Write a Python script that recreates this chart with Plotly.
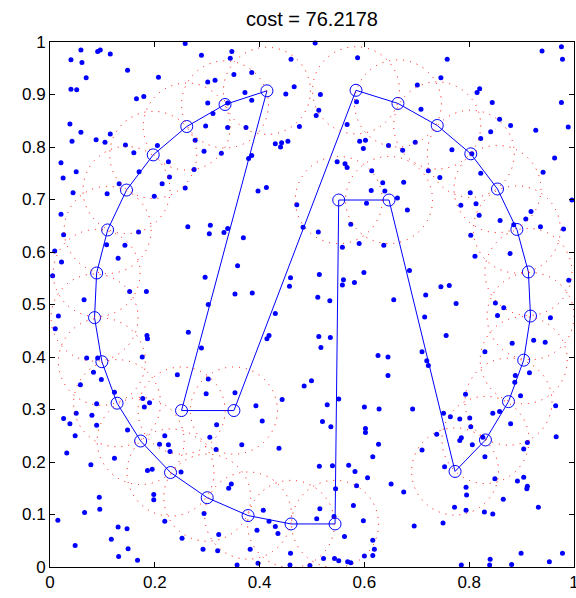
import plotly.graph_objects as go

# ---- data ----
route_x = [0.251, 0.351, 0.584, 0.664, 0.739, 0.803, 0.854, 0.891, 0.913, 0.917, 0.904, 0.875,
           0.831, 0.773, 0.647, 0.551, 0.544, 0.460, 0.378, 0.300, 0.230, 0.173, 0.128, 0.099,
           0.085, 0.089, 0.110, 0.146, 0.197, 0.261, 0.334, 0.414]
route_y = [0.298, 0.298, 0.908, 0.883, 0.841, 0.787, 0.720, 0.643, 0.562, 0.478, 0.394, 0.315,
           0.242, 0.182, 0.699, 0.699, 0.082, 0.082, 0.098, 0.132, 0.180, 0.240, 0.312, 0.391,
           0.475, 0.560, 0.642, 0.718, 0.785, 0.839, 0.881, 0.907]

circle_radius = 0.083
title_text = "cost = 76.2178"

dot_x = [
    0.059, 0.040, 0.061, 0.091, 0.096, 0.115, 0.069, 0.040, 0.051, 0.148, 0.207, 0.289, 0.258, 0.301, 0.315,
    0.165, 0.179, 0.301, 0.311, 0.038, 0.059, 0.042, 0.088, 0.105, 0.115, 0.144, 0.160, 0.205, 0.277, 0.297,
    0.294, 0.021, 0.025, 0.050, 0.170, 0.226, 0.228, 0.214, 0.132, 0.109, 0.044, 0.199, 0.258, 0.275, 0.021,
    0.506, 0.347, 0.344, 0.460, 0.587, 0.351, 0.385, 0.372, 0.385, 0.466, 0.450, 0.516, 0.513, 0.508, 0.476,
    0.339, 0.374, 0.430, 0.442, 0.440, 0.454, 0.385, 0.379, 0.327, 0.567, 0.591, 0.602, 0.598, 0.646, 0.548,
    0.563, 0.567, 0.614, 0.635, 0.613, 0.639, 0.397, 0.413, 0.471, 0.604, 0.585, 0.339,
    0.939, 0.976, 0.978, 0.758, 0.746, 0.701, 0.820, 0.815, 0.844, 0.976, 0.708, 0.858, 0.879, 0.841, 0.927,
    0.989, 0.822, 0.697, 0.673, 0.767, 0.963, 0.941, 0.722, 0.744, 0.822, 0.675, 0.805, 0.663, 0.682, 0.802,
    0.784, 0.813, 0.819, 0.918, 0.908, 0.996,
    0.026, 0.169, 0.263, 0.306, 0.304, 0.108, 0.143, 0.009, 0.130, 0.022, 0.005, 0.296, 0.152, 0.184, 0.065,
    0.302, 0.016, 0.010, 0.264, 0.185, 0.186, 0.289, 0.070, 0.091, 0.176, 0.083, 0.098, 0.058, 0.243, 0.302,
    0.298, 0.123,
    0.339, 0.332, 0.369, 0.483, 0.512, 0.574, 0.590, 0.558, 0.637, 0.358, 0.459, 0.457, 0.514, 0.560, 0.558,
    0.581, 0.599, 0.353, 0.386, 0.511, 0.534, 0.656, 0.430, 0.418, 0.414, 0.513, 0.535, 0.517, 0.626, 0.645,
    0.645, 0.499, 0.485, 0.353,
    0.859, 0.936, 0.980, 0.885, 0.803, 0.811, 0.878, 0.686, 0.746, 0.762, 0.990, 0.717, 0.775, 0.850, 0.866,
    0.854, 0.715, 0.955, 0.756, 0.882, 0.923, 0.945, 0.710, 0.830, 0.719, 0.722, 0.915, 0.888, 0.887, 0.793,
    0.898,
    0.089, 0.050, 0.080, 0.026, 0.038, 0.089, 0.048, 0.177, 0.180, 0.190, 0.148, 0.219, 0.209, 0.226, 0.229,
    0.032, 0.123, 0.078, 0.186, 0.195, 0.250, 0.305, 0.318, 0.317, 0.198, 0.198, 0.094, 0.095, 0.066, 0.015,
    0.219, 0.294, 0.130, 0.147, 0.117, 0.252, 0.048, 0.149, 0.131, 0.167, 0.292,
    0.443, 0.393, 0.405, 0.366, 0.437, 0.529, 0.551, 0.520, 0.536, 0.600, 0.628, 0.602, 0.602, 0.627, 0.616,
    0.514, 0.539, 0.570, 0.582, 0.606, 0.651, 0.585, 0.545, 0.346, 0.341, 0.407, 0.515, 0.509, 0.542, 0.579,
    0.598, 0.418, 0.430, 0.395, 0.435, 0.322, 0.562, 0.616, 0.619, 0.382, 0.320, 0.459, 0.522, 0.543, 0.551,
    0.568, 0.574, 0.600, 0.616, 0.397, 0.357, 0.458, 0.496,
    0.692, 0.751, 0.764, 0.782, 0.801, 0.845, 0.858, 0.965, 0.803, 0.879, 0.738, 0.785, 0.782, 0.826, 0.806,
    0.966, 0.911, 0.904, 0.710, 0.830, 0.753, 0.849, 0.892, 0.904, 0.911, 0.910, 0.794, 0.675, 0.795, 0.865,
    0.772, 0.794, 0.829, 0.845, 0.932, 0.750, 0.695, 0.899, 0.978, 0.953, 0.840, 0.839, 0.881, 0.785,
]
dot_y = [
    0.985, 0.966, 0.961, 0.982, 0.985, 0.977, 0.932, 0.910, 0.909, 0.946, 0.933, 0.975, 0.997, 0.924, 0.927,
    0.892, 0.896, 0.884, 0.864, 0.844, 0.828, 0.811, 0.814, 0.809, 0.825, 0.804, 0.789, 0.803, 0.813, 0.840,
    0.792, 0.770, 0.741, 0.753, 0.753, 0.772, 0.743, 0.730, 0.730, 0.711, 0.713, 0.706, 0.722, 0.757, 0.672,
    0.998, 0.982, 0.969, 0.967, 0.970, 0.938, 0.942, 0.904, 0.889, 0.915, 0.901, 0.900, 0.870, 0.860, 0.839,
    0.837, 0.837, 0.806, 0.808, 0.800, 0.811, 0.784, 0.778, 0.788, 0.843, 0.811, 0.813, 0.797, 0.803, 0.772,
    0.768, 0.761, 0.755, 0.732, 0.717, 0.716, 0.716, 0.723, 0.690, 0.693, 0.886, 0.884,
    0.983, 0.991, 0.967, 0.967, 0.932, 0.918, 0.911, 0.904, 0.885, 0.885, 0.872, 0.853, 0.841, 0.829, 0.832,
    0.838, 0.816, 0.809, 0.794, 0.795, 0.779, 0.752, 0.755, 0.742, 0.750, 0.733, 0.787, 0.703, 0.680, 0.713,
    0.689, 0.692, 0.670, 0.677, 0.663, 0.699,
    0.633, 0.638, 0.648, 0.651, 0.635, 0.614, 0.613, 0.602, 0.588, 0.581, 0.555, 0.552, 0.525, 0.525, 0.509,
    0.500, 0.478, 0.454, 0.447, 0.441, 0.435, 0.417, 0.398, 0.398, 0.400, 0.371, 0.357, 0.347, 0.366, 0.358,
    0.330, 0.333,
    0.645, 0.637, 0.627, 0.647, 0.638, 0.653, 0.616, 0.609, 0.613, 0.574, 0.551, 0.535, 0.557, 0.547, 0.537,
    0.542, 0.561, 0.520, 0.522, 0.514, 0.507, 0.509, 0.483, 0.441, 0.435, 0.439, 0.437, 0.418, 0.403, 0.400,
    0.365, 0.355, 0.345, 0.332,
    0.660, 0.648, 0.644, 0.652, 0.632, 0.592, 0.597, 0.565, 0.534, 0.536, 0.546, 0.518, 0.502, 0.503, 0.494,
    0.479, 0.476, 0.475, 0.441, 0.426, 0.432, 0.428, 0.410, 0.410, 0.393, 0.384, 0.370, 0.365, 0.352, 0.329,
    0.326,
    0.311, 0.293, 0.289, 0.283, 0.273, 0.270, 0.250, 0.321, 0.305, 0.313, 0.261, 0.250, 0.234, 0.233, 0.220,
    0.217, 0.207, 0.195, 0.184, 0.186, 0.181, 0.247, 0.271, 0.224, 0.138, 0.128, 0.133, 0.110, 0.104, 0.089,
    0.087, 0.102, 0.076, 0.073, 0.053, 0.055, 0.041, 0.035, 0.020, 0.013, 0.034,
    0.319, 0.307, 0.278, 0.233, 0.226, 0.309, 0.320, 0.277, 0.267, 0.305, 0.301, 0.264, 0.256, 0.234, 0.210,
    0.192, 0.193, 0.194, 0.182, 0.170, 0.158, 0.155, 0.149, 0.158, 0.150, 0.108, 0.111, 0.092, 0.096, 0.117,
    0.088, 0.087, 0.077, 0.070, 0.064, 0.062, 0.058, 0.051, 0.034, 0.034, 0.031, 0.026, 0.016, 0.016, 0.012,
    0.010, 0.008, 0.021, 0.022, 0.007, 0.004, 0.004, 0.003,
    0.301, 0.293, 0.286, 0.282, 0.284, 0.293, 0.296, 0.307, 0.267, 0.273, 0.253, 0.246, 0.241, 0.247, 0.233,
    0.248, 0.237, 0.225, 0.223, 0.210, 0.191, 0.168, 0.164, 0.171, 0.154, 0.149, 0.152, 0.143, 0.137, 0.129,
    0.114, 0.108, 0.105, 0.101, 0.114, 0.084, 0.078, 0.026, 0.026, 0.010, 0.015, 0.004, 0.005, 0.004,
]

x_ticks = [0, 0.2, 0.4, 0.6, 0.8, 1]
x_labels = ["0", "0.2", "0.4", "0.6", "0.8", "1"]
y_ticks = [0, 0.1, 0.2, 0.3, 0.4, 0.5, 0.6, 0.7, 0.8, 0.9, 1]
y_labels = ["0", "0.1", "0.2", "0.3", "0.4", "0.5", "0.6", "0.7", "0.8", "0.9", "1"]

# ---- figure ----
BLUE = "#0000ff"
FONT = "Liberation Sans, Arial, Helvetica, sans-serif"

fig = go.Figure()

fig.add_trace(go.Scatter(
    x=dot_x, y=dot_y, mode="markers",
    marker=dict(color=BLUE, size=5, line=dict(width=0)),
    cliponaxis=False, hoverinfo="skip", showlegend=False))

closed_x = route_x + [route_x[0]]
closed_y = route_y + [route_y[0]]
fig.add_trace(go.Scatter(
    x=closed_x, y=closed_y, mode="lines",
    line=dict(color=BLUE, width=1), hoverinfo="skip", showlegend=False))

fig.add_trace(go.Scatter(
    x=route_x, y=route_y, mode="markers",
    marker=dict(symbol="circle-open", size=12, color=BLUE, line=dict(width=1, color=BLUE)),
    cliponaxis=False, hoverinfo="skip", showlegend=False))

shapes = []
for cx, cy in zip(route_x, route_y):
    shapes.append(dict(
        type="circle", xref="x", yref="y",
        x0=cx - circle_radius, x1=cx + circle_radius,
        y0=cy - circle_radius, y1=cy + circle_radius,
        line=dict(color="rgb(255,0,0)", width=1, dash="1px,6px"),
        layer="above"))

axis_common = dict(
    range=[0, 1], autorange=False, showgrid=False, zeroline=False,
    showline=True, linecolor="black", linewidth=1, mirror="ticks",
    ticks="inside", ticklen=5, tickwidth=1, tickcolor="black",
    tickfont=dict(family=FONT, size=17, color="black"),
    automargin=False, ticklabeloverflow="allow",
)

fig.update_layout(
    width=576, height=598,
    margin=dict(l=50, r=2, t=42, b=31, autoexpand=False),
    paper_bgcolor="white", plot_bgcolor="white",
    shapes=shapes,
    showlegend=False,
    title=dict(text=title_text, x=0.5, xref="paper", xanchor="center",
               y=1 - 19 / 598, yref="container", yanchor="middle",
               font=dict(family=FONT, size=20, color="black")),
    xaxis=dict(tickvals=x_ticks, ticktext=x_labels, **axis_common),
    yaxis=dict(tickvals=y_ticks, ticktext=y_labels, **axis_common),
)

fig.write_html("out.html", config={"displayModeBar": False},
               post_script="document.body.style.margin='0';document.body.style.overflow='hidden';")
